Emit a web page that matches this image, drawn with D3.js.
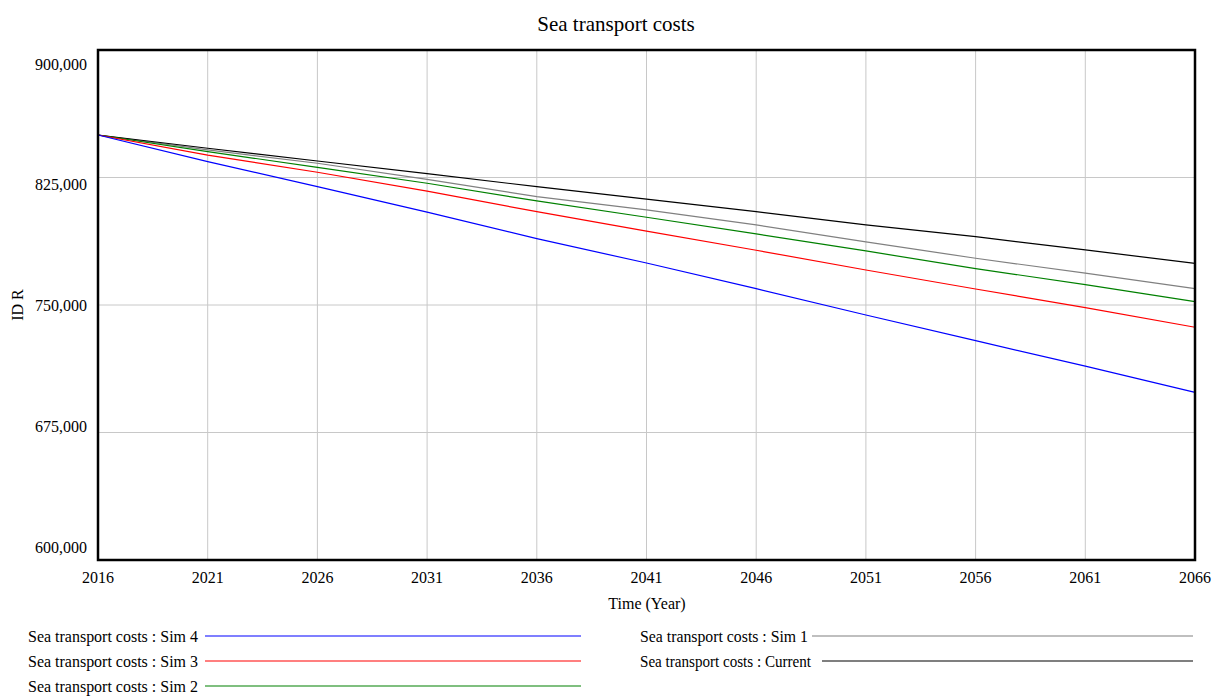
<!DOCTYPE html>
<html>
<head>
<meta charset="utf-8">
<script src="https://cdn.jsdelivr.net/npm/d3@7"></script>
<style>
  body { margin: 0; background: #fff; }
  text { font-family: "Liberation Serif", "Times New Roman", serif; fill: #000; }
</style>
</head>
<body>
<svg id="chart" width="1217" height="697"></svg>
<script>
const years = [2016, 2021, 2026, 2031, 2036, 2041, 2046, 2051, 2056, 2061, 2066];
const sim4 = [850000, 834300, 819600, 804600, 789000, 774700, 759600, 744100, 729000, 714000, 698600];
const sim3 = [850000, 838200, 828100, 817000, 804900, 793500, 782200, 770600, 759400, 748500, 736900];
const sim2 = [850000, 840200, 831000, 821600, 811200, 801600, 791800, 781800, 771400, 762000, 752000];
const sim1 = [850000, 841200, 833400, 823900, 813700, 806000, 797100, 787100, 777500, 768700, 759600];
const current = [850000, 842200, 834700, 827300, 819600, 812300, 804900, 797100, 790200, 782400, 774500];
const seriesNames = ["Sea transport costs : Sim 4", "Sea transport costs : Sim 3", "Sea transport costs : Sim 2", "Sea transport costs : Sim 1", "Sea transport costs : Current"];
const seriesColors = ["#0000ff", "#ff0000", "#008000", "#808080", "#000000"];
const yTicks = [600000, 675000, 750000, 825000, 900000];
const xTicks = [2016, 2021, 2026, 2031, 2036, 2041, 2046, 2051, 2056, 2061, 2066];

const seriesValues = [sim4, sim3, sim2, sim1, current];
const svg = d3.select("#chart");
const L = 98, R = 1195, T = 50, B = 560;

const x = d3.scaleLinear().domain([2016, 2066]).range([L, R]);
const y = d3.scaleLinear().domain([600000, 900000]).range([B, T]);
// Vensim-style label placement (labels spread slightly inside the plot)
const yLab = d3.scaleLinear().domain([600000, 900000]).range([547, 64]);
const fmt = d3.format(",");

// gridlines
svg.append("g").selectAll("line.vg").data(xTicks.slice(1, -1)).join("line")
  .attr("x1", d => x(d)).attr("x2", d => x(d)).attr("y1", T).attr("y2", B)
  .attr("stroke", "#c8c8c8").attr("stroke-width", 1);
svg.append("g").selectAll("line.hg").data(yTicks.slice(1, -1)).join("line")
  .attr("x1", L).attr("x2", R).attr("y1", d => y(d)).attr("y2", d => y(d))
  .attr("stroke", "#c8c8c8").attr("stroke-width", 1);

// lines
const line = d3.line().x((d, i) => x(years[i])).y(d => y(d));
const order = [3, 4, 2, 1, 0];
svg.append("g").selectAll("path").data(order).join("path")
  .attr("d", k => line(seriesValues[k]))
  .attr("fill", "none").attr("stroke", k => seriesColors[k]).attr("stroke-width", 1.2);

// frame
svg.append("rect").attr("x", L).attr("y", T).attr("width", R - L).attr("height", B - T)
  .attr("fill", "none").attr("stroke", "#000").attr("stroke-width", 2.5);

// y tick labels
svg.append("g").selectAll("text").data(yTicks).join("text")
  .attr("x", 87).attr("y", d => yLab(d)).attr("dy", "0.35em")
  .attr("text-anchor", "end").attr("font-size", 16).text(d => fmt(d));

// x tick labels
svg.append("g").selectAll("text").data(xTicks).join("text")
  .attr("x", d => x(d)).attr("y", 583)
  .attr("text-anchor", "middle").attr("font-size", 16).text(d => d);

// axis titles
svg.append("text").attr("x", 647).attr("y", 609).attr("text-anchor", "middle")
  .attr("font-size", 16).text("Time (Year)");
svg.append("text").attr("transform", "translate(23,305) rotate(-90)")
  .attr("text-anchor", "middle").attr("font-size", 16).text("ID R");

// title
svg.append("text").attr("x", 616).attr("y", 31).attr("text-anchor", "middle")
  .attr("font-size", 21).text("Sea transport costs");

// legend
const legendPos = [
  {tx: 28, w: 170, y: 636, x1: 205, x2: 581},
  {tx: 28, w: 170, y: 661, x1: 205, x2: 581},
  {tx: 28, w: 170, y: 686, x1: 205, x2: 581},
  {tx: 640, w: 168, y: 636, x1: 812, x2: 1193},
  {tx: 640, w: 171, y: 661, x1: 822, x2: 1193}
];
const lg = svg.append("g").selectAll("g").data(seriesNames).join("g");
lg.append("text").attr("x", (d, i) => legendPos[i].tx).attr("y", (d, i) => legendPos[i].y)
  .attr("dy", "0.35em").attr("font-size", 16)
  .attr("textLength", (d, i) => legendPos[i].w).attr("lengthAdjust", "spacingAndGlyphs")
  .text(d => d);
lg.append("line").attr("x1", (d, i) => legendPos[i].x1).attr("x2", (d, i) => legendPos[i].x2)
  .attr("y1", (d, i) => legendPos[i].y).attr("y2", (d, i) => legendPos[i].y)
  .attr("stroke", (d, i) => seriesColors[i]).attr("stroke-width", 1.2);
</script>
</body>
</html>
